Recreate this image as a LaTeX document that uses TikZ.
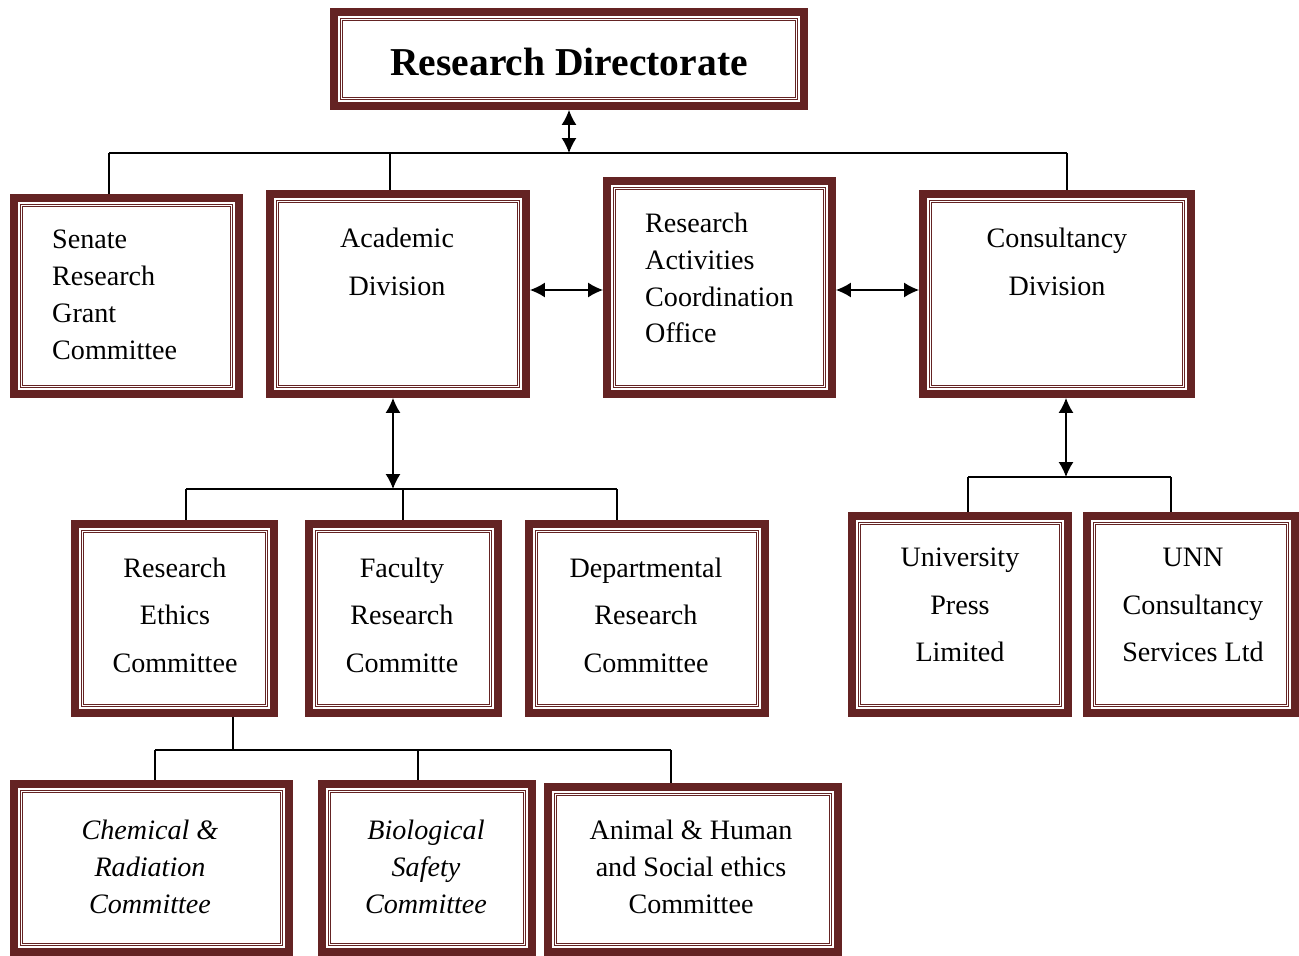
\documentclass[tikz,border=0pt]{standalone}
\usepackage{fontspec}
\setmainfont{Liberation Serif}
\usetikzlibrary{arrows.meta,positioning,calc}

\definecolor{boxred}{RGB}{100,35,35}

\tikzset{
  orgbox/.style 2 args={draw=boxred, line width=4.5pt, fill=white,
    minimum width={(#1-8)*0.02cm}, minimum height={(#2-8)*0.02cm}},
  innerline/.style={draw=boxred, line width=0.8pt, double=white, double distance=0.6pt},
  txt/.style={align=center, font=\fontsize{16}{21}\selectfont},
  wide/.style={align=center, font=\fontsize{16}{27}\selectfont},
  link/.style={draw=black, line width=0.8pt},
  twoway/.style={link, {Latex[length=3mm,width=3mm]}-{Latex[length=3mm,width=3mm]}}
}

\begin{document}
\begin{tikzpicture}[x=0.02cm, y=-0.02cm]
\useasboundingbox (0,0) rectangle (1299,956);

% boxes
\node [orgbox={478}{102}] (dir) at (569,59) {};
\node [orgbox={233}{204}] (senate) at (126.5,296) {};
\node [orgbox={264}{208}] (acad) at (398,294) {};
\node [orgbox={233}{221}] (raco) at (719.5,287.5) {};
\node [orgbox={276}{208}] (cons) at (1057,294) {};
\node [orgbox={207}{197}] (ethics) at (174.5,618.5) {};
\node [orgbox={197}{197}] (fac) at (403.5,618.5) {};
\node [orgbox={244}{197}] (dept) at (647,618.5) {};
\node [orgbox={224}{205}] (press) at (960,614.5) {};
\node [orgbox={216}{205}] (unn) at (1191,614.5) {};
\node [orgbox={283}{176}] (chem) at (151.5,868) {};
\node [orgbox={218}{176}] (bio) at (427,868) {};
\node [orgbox={298}{173}] (animal) at (693,869.5) {};

\foreach \n in {dir,senate,acad,raco,cons,ethics,fac,dept,press,unn,chem,bio,animal}
  \draw [innerline] ($(\n.north west)+(11.5,11.5)$) rectangle ($(\n.south east)+(-11.5,-11.5)$);

% texts
\node [font=\bfseries\fontsize{22.5}{26}\selectfont] (dirtxt) at (569,62) {Research Directorate};
\node [txt, align=left, anchor=west] (senatetxt) at (46,295) {Senate\\Research\\Grant\\Committee};
\node [wide] (acadtxt) at (397,262) {Academic\\Division};
\node [txt, align=left, anchor=west] (racotxt) at (639,278) {Research\\Activities\\Coordination\\Office};
\node [wide] (constxt) at (1057,262) {Consultancy\\Division};
\node [wide] (ethicstxt) at (175,615) {Research\\Ethics\\Committee};
\node [wide] (factxt) at (402,615) {Faculty\\Research\\Committe};
\node [wide] (depttxt) at (646,615) {Departmental\\Research\\Committee};
\node [wide] (presstxt) at (960,605) {University\\Press\\Limited};
\node [wide] (unntxt) at (1193,605) {UNN\\Consultancy\\Services Ltd};
\node [txt, font=\itshape\fontsize{16}{21}\selectfont] (chemtxt) at (150,867) {Chemical \&\\Radiation\\Committee};
\node [txt, font=\itshape\fontsize{16}{21}\selectfont] (biotxt) at (426,867) {Biological\\Safety\\Committee};
\node [txt] (animaltxt) at (691,867) {Animal \& Human\\and Social ethics\\Committee};

% top level
\coordinate (topbus) at (569,153);
\coordinate (busL) at (109,153);
\coordinate (busA) at (390,153);
\coordinate (busR) at (1067,153);
\draw [twoway] (dir) -- (topbus);
\draw [link] (busL) -- (busR);
\draw [link] (busL) -- (busL |- senate.north);
\draw [link] (busA) -- (busA |- acad.north);
\draw [link] (busR) -- (busR |- cons.north);
\coordinate (sidearrow) at (0,290);
\draw [twoway] (acad.east |- sidearrow) -- (raco.west |- sidearrow);
\draw [twoway] (raco.east |- sidearrow) -- (cons.west |- sidearrow);

% academic branch
\coordinate (midbus) at (393,489);
\coordinate (midL) at (186,489);
\coordinate (midC) at (403,489);
\coordinate (midR) at (617,489);
\draw [twoway] (acad.south -| midbus) -- (midbus);
\draw [link] (midL) -- (midR);
\draw [link] (midL) -- (midL |- ethics.north);
\draw [link] (midC) -- (midC |- fac.north);
\draw [link] (midR) -- (midR |- dept.north);

% consultancy branch
\coordinate (rbus) at (1066,477);
\coordinate (rL) at (968,477);
\coordinate (rR) at (1171,477);
\draw [twoway] (cons.south -| rbus) -- (rbus);
\draw [link] (rL) -- (rR);
\draw [link] (rL) -- (rL |- press.north);
\draw [link] (rR) -- (rR |- unn.north);

% ethics branch
\coordinate (lowbus) at (233,750);
\coordinate (lowL) at (155,750);
\coordinate (lowC) at (418,750);
\coordinate (lowR) at (671,750);
\draw [link] (ethics.south -| lowbus) -- (lowbus);
\draw [link] (lowL) -- (lowR);
\draw [link] (lowL) -- (lowL |- chem.north);
\draw [link] (lowC) -- (lowC |- bio.north);
\draw [link] (lowR) -- (lowR |- animal.north);
\end{tikzpicture}
\end{document}
